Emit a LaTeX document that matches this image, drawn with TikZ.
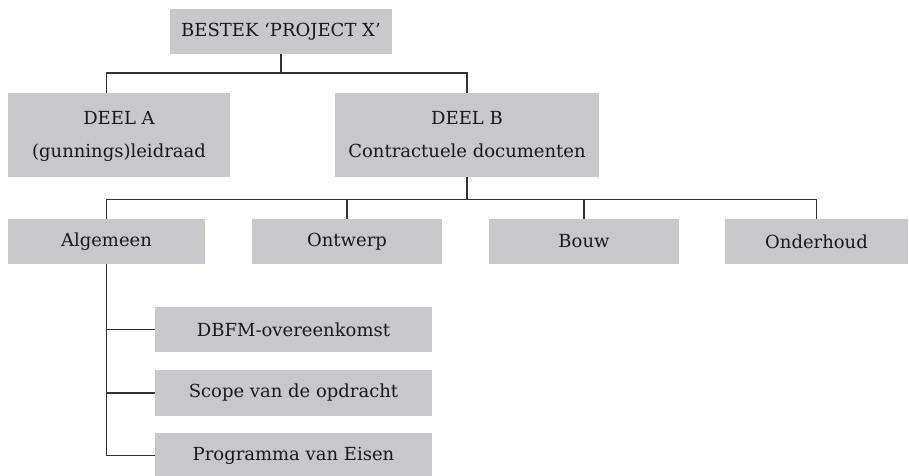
\documentclass[tikz,border=0pt]{standalone}
\usepackage{fontspec}
\setmainfont{DejaVu Serif}
\usepackage{tikz}

\begin{document}
\begin{tikzpicture}[x=1pt, y=-1pt,
	box/.style={fill=boxgray, inner sep=0pt, minimum height=45pt, align=center,
		font=\fontsize{18}{33}\selectfont, text=black!90},
	link/.style={draw=black!80, line width=1.3pt}]
	\definecolor{boxgray}{HTML}{C8C8CA}
	\useasboundingbox (0,0) rectangle (909,475);
	\node [box, minimum width=222pt] (bestek) at (281,31.5) {BESTEK `PROJECT X'};
	\node [box, minimum width=222pt, minimum height=84pt, text depth=2pt] (deelA) at (119,135) {DEEL A\\(gunnings)leidraad};
	\node [box, minimum width=264pt, minimum height=84pt, text depth=2pt] (deelB) at (467,135) {DEEL B\\Contractuele documenten};
	\node [box, minimum width=197pt] (alg) at (106.5,241.5) {Algemeen};
	\node [box, minimum width=190pt] (ontw) at (347,241.5) {Ontwerp};
	\node [box, minimum width=190pt] (bouw) at (584,241.5) {Bouw};
	\node [box, minimum width=183pt] (onderh) at (816.5,241.5) {Onderhoud};
	\node [box, minimum width=277pt] (dbfm) at (293.5,329.5) {DBFM-overeenkomst};
	\node [box, minimum width=277pt, minimum height=46pt] (scope) at (293.5,393) {Scope van de opdracht};
	\node [box, minimum width=277pt] (pve) at (293.5,455.5) {Programma van Eisen};
	\coordinate (busA) at (281,73);
	\coordinate (busB) at (467,199.5);
	\draw [link] (bestek) -- (busA);
	\draw [link] (busA) -| (alg.north |- deelA.north);
	\draw [link] (busA) -| (deelB);
	\draw [link] (deelB) -- (busB);
	\draw [link] (busB) -| (alg);
	\draw [link] (busB) -| (ontw);
	\draw [link] (busB) -| (bouw);
	\draw [link] (busB) -| (onderh);
	\draw [link] (alg) |- (dbfm);
	\draw [link] (alg) |- (scope);
	\draw [link] (alg) |- (pve);
\end{tikzpicture}
\end{document}
